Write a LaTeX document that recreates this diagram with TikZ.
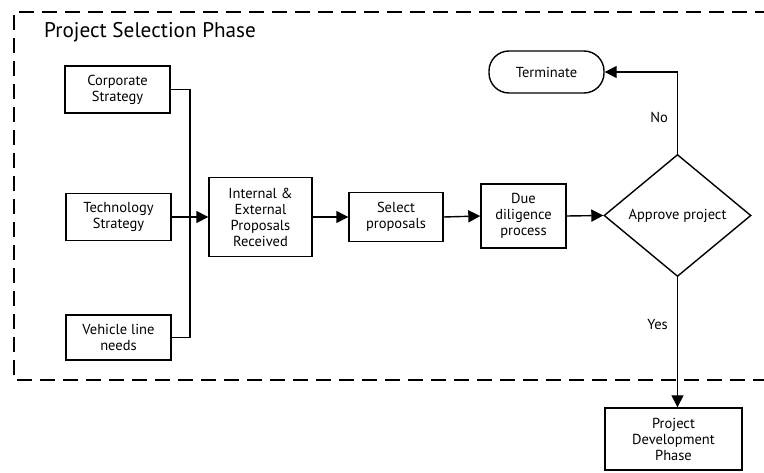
\documentclass[tikz,border=0pt]{standalone}
\usepackage{fontspec}
\setmainfont{PT Sans}
\usetikzlibrary{arrows.meta,shapes.geometric}
\begin{document}
\begin{tikzpicture}[x=1pt,y=-1pt,
  box/.style={draw, line width=1.4pt, inner sep=0pt, align=center,
              font=\fontsize{14.5}{16}\selectfont},
  flow/.style={line width=1.4pt, -{Triangle[length=12pt,width=12pt]}},
  link/.style={line width=1.4pt},
  phase/.style={line width=2.2pt, dash pattern=on 15pt off 8pt},
  tag/.style={font=\fontsize{14.5}{16}\selectfont, inner sep=1pt}]
\useasboundingbox (0,0) rectangle (764,473);
\clip (0,0) rectangle (764,473);

% phase frame
\draw[phase] (770,12) -- (14,12) -- (14,380) -- (770,380);
\node[anchor=west, font=\fontsize{21.2}{24}\selectfont, inner sep=0pt] (title) at (44,32) {Project Selection Phase};

% inputs
\node[box, minimum width=105, minimum height=47] (corp) at (117.5,89.5) {Corporate\\Strategy};
\node[box, minimum width=105, minimum height=47] (tech) at (118.5,217) {Technology\\Strategy};
\node[box, minimum width=105, minimum height=45] (veh)  at (118.5,337.5) {Vehicle line\\needs};
\coordinate (join) at (190,217);

% main flow
\node[box, minimum width=103, minimum height=79] (recv) at (260.5,217) {Internal \&\\External\\Proposals\\Received};
\node[box, minimum width=94, minimum height=49] (sel) at (396,217) {Select\\proposals};
\node[box, minimum width=85, minimum height=64] (due) at (523.5,216) {Due\\diligence\\process};
\node[draw, diamond, line width=1.4pt, inner sep=0pt, minimum width=147, minimum height=122,
      font=\fontsize{14.5}{16}\selectfont] (appr) at (677.5,215.5) {Approve project};
\node[draw, line width=1.4pt, rounded corners=20pt, minimum width=115, minimum height=42,
      inner sep=0pt, font=\fontsize{14.5}{16}\selectfont] (term) at (546.5,72) {Terminate};
\node[box, minimum width=137, minimum height=62] (dev) at (673.5,439) {Project\\Development\\Phase};

% connectors
\draw[link] (corp.east) -| (join);
\draw[link] (veh.east) -| (join);
\draw[flow] (tech.east) -- (recv.west);
\draw[flow] (recv.east) -- (sel.west);
\draw[flow] (sel.east) -- (due.west);
\draw[flow] (due.east) -- (appr.west);
\draw[flow] (appr.north) |- node[tag, pos=0.22, left=8pt] {No} (term.east);
\draw[flow] (appr.south) -- node[tag, pos=0.36, left=8pt] {Yes} (appr.south |- dev.north);
\end{tikzpicture}
\end{document}
